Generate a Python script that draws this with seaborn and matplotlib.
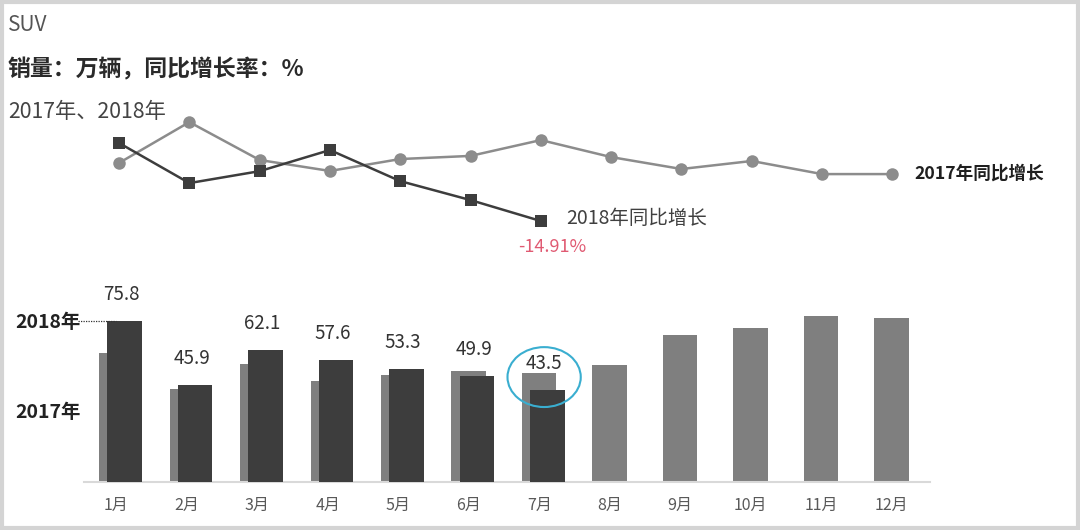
import numpy as np
import pandas as pd
import matplotlib
matplotlib.use("Agg")
import matplotlib.pyplot as plt
from matplotlib.patches import Ellipse, Rectangle
import seaborn as sns

months = ["1月", "2月", "3月", "4月", "5月", "6月", "7月", "8月", "9月", "10月", "11月", "12月"]
sales_2017 = [60.7, 43.8, 55.6, 47.6, 50.4, 52.3, 51.3, 55.1, 69.2, 72.5, 78.2, 77.2]
sales_2018 = [75.8, 45.9, 62.1, 57.6, 53.3, 49.9, 43.5]
growth_2017 = [14.8, 35.7, 16.3, 10.7, 16.8, 18.4, 26.5, 17.8, 11.7, 15.8, 9.1, 9.1]
growth_2018 = [25.0, 4.5, 10.6, 21.4, 5.5, -4.2, -14.91]
labels_2018 = ["75.8", "45.9", "62.1", "57.6", "53.3", "49.9", "43.5"]

sns.set_theme(style="white")
plt.rcParams["font.family"] = ["Noto Sans CJK SC", "DejaVu Sans"]

W, H = 1080, 530
fig = plt.figure(figsize=(10.8, 5.3), dpi=100)
fig.patch.set_facecolor("white")

def fx(px):
    return px / W

def fy(py):
    return 1 - py / H

C17 = "#7f7f7f"
C18 = "#3d3d3d"
L17 = "#8c8c8c"

# ---- bottom bar axes ----
axb = fig.add_axes([fx(84), fy(482), fx(846), (482 - 290) / H])
df17 = pd.DataFrame({"m": months, "v": sales_2017})
df18 = pd.DataFrame({"m": months[:len(sales_2018)], "v": sales_2018})
sns.barplot(data=df17, x="m", y="v", order=months, color=C17, saturation=1,
            width=0.49, ax=axb, zorder=2)
n17 = len(axb.patches)
sns.barplot(data=df18, x="m", y="v", order=months, color=C18, saturation=1,
            width=0.49, ax=axb, zorder=3)
off = 0.115
for p in axb.patches[n17:]:
    p.set_x(p.get_x() + off)
    p.set_linewidth(0)
for p in axb.patches[:n17]:
    p.set_linewidth(0)

axb.set_xlim(-0.461, 11.547)
axb.set_ylim(0, 90.4)
axb.set_xlabel("")
axb.set_ylabel("")
axb.set_yticks([])
for s in ["left", "right", "top"]:
    axb.spines[s].set_visible(False)
axb.spines["bottom"].set_color("#d9d9d9")
axb.spines["bottom"].set_linewidth(1.5)
axb.tick_params(axis="x", length=0, labelsize=11.5, labelcolor="#595959", pad=11)
axb.set_facecolor("none")

for i, (v, lab) in enumerate(zip(sales_2018, labels_2018)):
    axb.annotate(lab, (i + off * 0.6, v), xytext=(0, 19), textcoords="offset points",
                 ha="center", va="center", fontsize=13.5, color="#333333")

# highlight ellipse around July
ell = Ellipse((6.07, 49.4), 1.04, 28.2, fill=False, edgecolor="#3aaed0",
              linewidth=1.5, clip_on=False, zorder=5)
axb.add_patch(ell)

# 2018 dotted guide
axb.plot([-0.55, 0.0], [sales_2018[0], sales_2018[0]], ls=(0, (1, 1)),
         color="#333333", lw=0.9, clip_on=False, zorder=4)

fig.text(fx(15), fy(323), "2018年", fontsize=14, fontweight="bold",
         color="#222222", va="center", ha="left")
fig.text(fx(15), fy(412), "2017年", fontsize=14, fontweight="bold",
         color="#222222", va="center", ha="left")

# ---- top line axes ----
axt = fig.add_axes([fx(86), fy(260), fx(845), 160 / H])
x17 = np.arange(len(growth_2017))
x18 = np.arange(len(growth_2018))
sns.lineplot(x=x17, y=growth_2017, ax=axt, color=L17, lw=1.8, marker="o",
             markersize=9, markeredgewidth=0, markerfacecolor=L17, zorder=2)
sns.lineplot(x=x18, y=growth_2018, ax=axt, color=C18, lw=1.8, marker="s",
             markersize=8.5, markeredgewidth=0, markerfacecolor=C18, zorder=3)
axt.set_xlim(-0.47, 11.55)
axt.set_ylim(-34.85, 47.0)
axt.axis("off")

axt.annotate("2017年同比增长", (11, growth_2017[-1]), xytext=(16, 0),
             textcoords="offset points", ha="left", va="center",
             fontsize=12.7, color="#1f1f1f", fontweight="bold",
             annotation_clip=False)
axt.annotate("2018年同比增长", (6, growth_2018[-1]), xytext=(18, 2),
             textcoords="offset points", ha="left", va="center",
             fontsize=14, color="#404040", annotation_clip=False)
axt.annotate(f"{growth_2018[-1]:.2f}%", (6, growth_2018[-1]), xytext=(8, -19),
             textcoords="offset points", ha="center", va="center",
             fontsize=13, color="#e05a72", annotation_clip=False)

# ---- titles ----
fig.text(fx(8), fy(25), "SUV", fontsize=15, color="#555555", va="center", ha="left")
fig.text(fx(8), fy(70), "销量：万辆，同比增长率：%", fontsize=16.5, color="#2a2a2a",
         fontweight="bold", va="center", ha="left")
fig.text(fx(8), fy(112), "2017年、2018年", fontsize=15.3, color="#444444",
         va="center", ha="left")

# frame
fig.patches.append(Rectangle((0.0015, 0.003), 0.997, 0.994, transform=fig.transFigure,
                             fill=False, edgecolor="#d4d4d4", linewidth=3))

fig.savefig("out.png", dpi=100, facecolor="white")
